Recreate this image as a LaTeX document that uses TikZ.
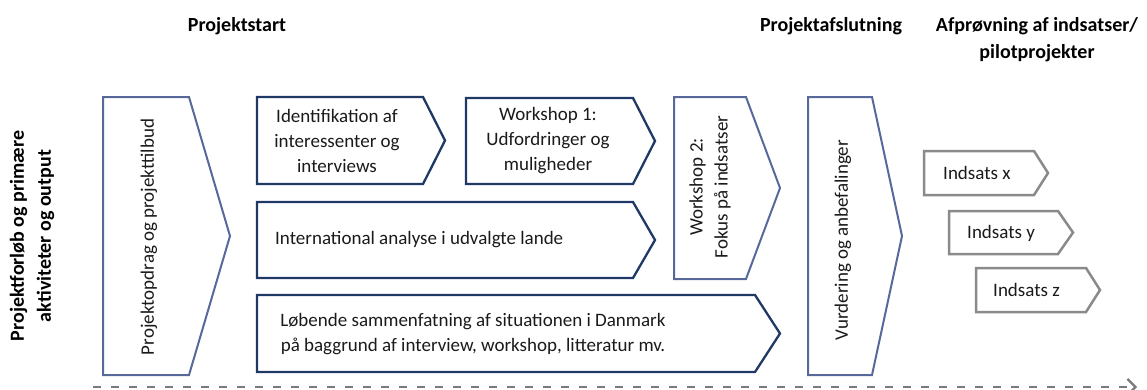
\documentclass[tikz,border=0pt]{standalone}
\usepackage{fontspec}
\setmainfont{Carlito}
\usetikzlibrary{arrows.meta}
\definecolor{navy}{HTML}{1F3864}
\definecolor{slate}{HTML}{56699A}
\definecolor{grayb}{HTML}{8A8A8A}
\definecolor{dashgray}{HTML}{7A7A7A}
\definecolor{txt}{HTML}{1A1A1A}
\newcommand\chev[6]{%
  \draw[#1] (#2,#3) -- (#4,#3) -- (#5,{(#3+#6)/2}) -- (#4,#6) -- (#2,#6) -- cycle;}
\tikzset{
  navyline/.style={draw=navy, line width=2.3pt, line join=miter},
  slateline/.style={draw=slate, line width=2pt, line join=miter},
  grayline/.style={draw=grayb, line width=2.5pt, line join=miter},
  body/.style={font=\fontsize{19}{25}\selectfont, text=txt, align=center, inner sep=0pt},
  hdr/.style={font=\fontsize{20}{27}\selectfont\bfseries, text=black, align=center, inner sep=0pt},
  dashline/.style={draw=dashgray, line width=2.2pt, dash pattern=on 8pt off 10pt,
    -{Straight Barb[length=8pt,width=16pt,line width=2.2pt]}}
}
\begin{document}
\begin{tikzpicture}[x=1pt,y=-1pt]
\useasboundingbox (0,0) rectangle (1147,389);
% shapes
\chev{slateline}{103}{97}{189}{230}{375}
\chev{navyline}{257}{97}{423}{445}{184}
\chev{navyline}{466}{98}{633}{655}{184}
\chev{navyline}{257}{202}{633}{655}{278}
\chev{navyline}{257}{295}{755}{780}{372}
\chev{slateline}{674}{97}{746}{780}{279}
\chev{slateline}{808}{97}{872}{902}{375}
\chev{grayline}{924}{151}{1034}{1048}{195}
\chev{grayline}{949}{211}{1058}{1073}{254}
\chev{grayline}{976}{268}{1086}{1100}{312}
% headers
\node[hdr] (h1) at (237,26) {Projektstart};
\node[hdr] (h2) at (831,26) {Projektafslutning};
\node[hdr] (h3) at (1037,40) {Afprøvning af indsatser/\\pilotprojekter};
\node[hdr, rotate=90] (side) at (32,236) {Projektforløb og primære\\aktiviteter og output};
% texts
\node[body, rotate=90] (opd) at (149,237) {Projektopdrag og projekttilbud};
\node[body] (ident) at (337,141) {Identifikation af\\interessenter og\\interviews};
\node[body] (ws1) at (548,141) {Workshop 1:\\Udfordringer og\\muligheder};
\node[body, anchor=west] (intl) at (275,240) {International analyse i udvalgte lande};
\node[body] (lob) at (473,334) {Løbende sammenfatning af situationen i Danmark\\på baggrund af interview, workshop, litteratur mv.};
\node[body, rotate=90] (ws2) at (710,187) {Workshop 2:\\Fokus på indsatser};
\node[body, rotate=90] (vurd) at (843,240) {Vurdering og anbefalinger};
\node[body, anchor=west] (indx) at (943,173) {Indsats x};
\node[body, anchor=west] (indy) at (967,233) {Indsats y};
\node[body, anchor=west] (indz) at (993,290) {Indsats z};
% timeline
\coordinate (ds) at (93,387);
\coordinate (de) at (1137,387);
\draw[dashline] (ds) -- (de);
\end{tikzpicture}
\end{document}
